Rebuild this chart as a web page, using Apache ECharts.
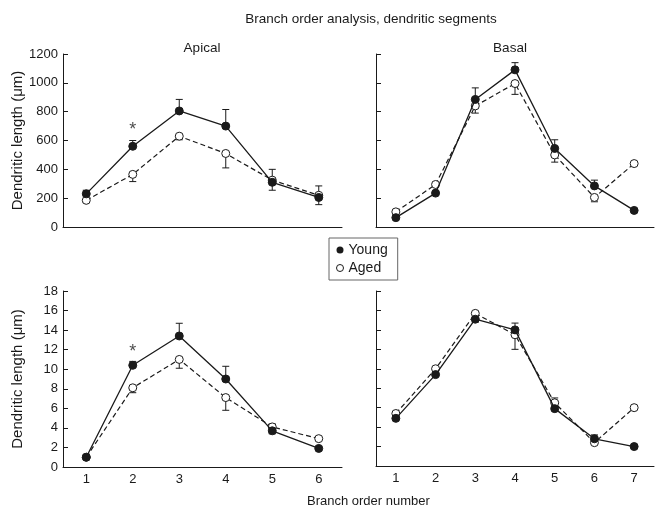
<!DOCTYPE html>
<html>
<head>
<meta charset="utf-8">
<script src="https://cdn.jsdelivr.net/npm/echarts@6/dist/echarts.min.js"></script>
<style>
  html, body { margin: 0; padding: 0; background: #fff; }
  #chart { width: 655px; height: 508px; }
</style>
</head>
<body>
<div id="chart"></div>
<script>
// branch order categories
const apicalOrders = ['1', '2', '3', '4', '5', '6']
const basalOrders = ['1', '2', '3', '4', '5', '6', '7']

// total length per branch order (um)
const apicalYoung = [230, 560, 805, 700, 310, 205]
const apicalAged = [185, 365, 630, 510, 325, 220]
const basalYoung = [65, 235, 885, 1090, 545, 285, 115]
const basalAged = [105, 295, 840, 995, 500, 205, 440]

// mean segment length per branch order (um)
const apicalSegYoung = [1.0, 10.4, 13.4, 9.0, 3.7, 1.9]
const apicalSegAged = [1.0, 8.1, 11.0, 7.1, 4.1, 2.9]
const basalSegYoung = [4.9, 9.4, 15.1, 14.0, 5.9, 2.8, 2.0]
const basalSegAged = [5.4, 10.0, 15.7, 13.5, 6.5, 2.4, 6.0]

// one-sided error bars (sign gives direction, 0 = none)
const apicalYoungErr = [25, 40, 80, 115, -55, -50]
const apicalAgedErr = [-15, -50, -25, -100, 75, 65]
const basalYoungErr = [0, 0, 80, 50, 60, 40, 0]
const basalAgedErr = [0, 0, -50, -75, -50, -30, 0]
const apicalSegYoungErr = [0, 0.4, 1.3, 1.3, -0.3, 0]
const apicalSegAgedErr = [0, -0.5, -0.9, -1.3, 0.3, 0]
const basalSegYoungErr = [0, 0, -0.3, 0.7, 0, 0.4, 0]
const basalSegAgedErr = [0, 0, 0, -1.5, 0.5, 0, 0]

// significance marks: [category index, height]
const apicalStar = [[1, 675]]
const apicalSegStar = [[1, 11.8]]

const font = 'Liberation Sans, Arial, sans-serif'
const ink = '#1a1a1a'

const chart = echarts.init(document.getElementById('chart'))

function errorBars(idx, values, errs) {
  return {
    type: 'custom',
    xAxisIndex: idx,
    yAxisIndex: idx,
    z: 1,
    silent: true,
    encode: { x: 0, y: 1 },
    data: values.map((v, i) => [i, v, errs[i]]),
    renderItem(params, api) {
      const e = api.value(2)
      if (!e) return
      const p0 = api.coord([api.value(0), api.value(1)])
      const p1 = api.coord([api.value(0), api.value(1) + e])
      const style = { stroke: ink, lineWidth: 1 }
      return {
        type: 'group',
        children: [
          { type: 'line', shape: { x1: p0[0], y1: p0[1], x2: p1[0], y2: p1[1] }, style },
          { type: 'line', shape: { x1: p1[0] - 3.5, y1: p1[1], x2: p1[0] + 3.5, y2: p1[1] }, style }
        ]
      }
    }
  }
}

function young(idx, values) {
  return {
    name: 'Young',
    type: 'line',
    xAxisIndex: idx,
    yAxisIndex: idx,
    z: 3,
    data: values,
    symbol: 'circle',
    symbolSize: 8,
    lineStyle: { color: ink, width: 1.3 },
    itemStyle: { color: ink, borderColor: ink, borderWidth: 1 }
  }
}

function aged(idx, values) {
  return {
    name: 'Aged',
    type: 'line',
    xAxisIndex: idx,
    yAxisIndex: idx,
    z: 2,
    data: values,
    symbol: 'circle',
    symbolSize: 8,
    lineStyle: { color: ink, width: 1.2, type: [5, 3] },
    itemStyle: { color: '#fff', borderColor: ink, borderWidth: 1 }
  }
}

function star(idx, pts) {
  return {
    type: 'scatter',
    xAxisIndex: idx,
    yAxisIndex: idx,
    silent: true,
    symbolSize: 0,
    data: pts,
    label: { show: true, position: 'inside', formatter: '*', fontSize: 18, fontFamily: font, color: ink }
  }
}

function xAxis(idx, cats, showLabels) {
  return {
    type: 'category',
    gridIndex: idx,
    data: cats,
    boundaryGap: true,
    axisLine: { lineStyle: { color: ink, width: 1 } },
    axisTick: { inside: true, length: 5, lineStyle: { color: ink } },
    axisLabel: { show: showLabels, margin: 6, fontSize: 13, fontFamily: font, color: ink }
  }
}

function yAxis(idx, max, interval, showLabels) {
  return {
    type: 'value',
    gridIndex: idx,
    min: 0,
    max: max,
    interval: interval,
    name: showLabels ? 'Dendritic length (μm)' : '',
    nameLocation: 'middle',
    nameGap: 38,
    nameTextStyle: { fontSize: 15, fontFamily: font, color: ink },
    splitLine: { show: false },
    axisLine: { show: true, lineStyle: { color: ink, width: 1 } },
    axisTick: { show: true, inside: true, length: 5, lineStyle: { color: ink } },
    axisLabel: {
      show: showLabels, margin: 5, fontSize: 13, fontFamily: font, color: ink,
      formatter: (v) => String(v)
    }
  }
}

const titleText = { fontSize: 13.5, fontWeight: 'normal', fontFamily: font, color: ink }

chart.setOption({
  animation: false,
  title: [
    { text: 'Branch order analysis, dendritic segments', left: 366, top: 7, textAlign: 'center', textStyle: titleText },
    { text: 'Apical', left: 197, top: 36, textAlign: 'center', textStyle: titleText },
    { text: 'Basal', left: 505, top: 36, textAlign: 'center', textStyle: titleText }
  ],
  legend: {
    orient: 'vertical',
    left: 329,
    top: 238,
    padding: [5, 10, 5, 7],
    itemGap: 4,
    itemWidth: 7,
    itemHeight: 7,
    borderColor: '#666',
    borderWidth: 1,
    textStyle: { fontSize: 14, fontFamily: font, color: ink },
    data: [
      { name: 'Young', icon: 'circle', itemStyle: { color: ink, borderWidth: 0 } },
      { name: 'Aged', icon: 'circle', itemStyle: { color: '#fff', borderColor: ink, borderWidth: 1 } }
    ]
  },
  graphic: [{
    type: 'text',
    left: 307,
    top: 495,
    style: { text: 'Branch order number', fontSize: 13, fontFamily: font, fill: ink }
  }],
  grid: [
    { left: 63, top: 54, width: 279, height: 173 },
    { left: 376, top: 54, width: 278, height: 173 },
    { left: 63, top: 291, width: 279, height: 176 },
    { left: 376, top: 291, width: 278, height: 175 }
  ],
  xAxis: [
    xAxis(0, apicalOrders, false),
    xAxis(1, basalOrders, false),
    xAxis(2, apicalOrders, true),
    xAxis(3, basalOrders, true)
  ],
  yAxis: [
    yAxis(0, 1200, 200, true),
    yAxis(1, 1200, 200, false),
    yAxis(2, 18, 2, true),
    yAxis(3, 18, 2, false)
  ],
  series: [
    errorBars(0, apicalYoung, apicalYoungErr),
    errorBars(0, apicalAged, apicalAgedErr),
    aged(0, apicalAged),
    young(0, apicalYoung),
    star(0, apicalStar),

    errorBars(1, basalYoung, basalYoungErr),
    errorBars(1, basalAged, basalAgedErr),
    aged(1, basalAged),
    young(1, basalYoung),

    errorBars(2, apicalSegYoung, apicalSegYoungErr),
    errorBars(2, apicalSegAged, apicalSegAgedErr),
    aged(2, apicalSegAged),
    young(2, apicalSegYoung),
    star(2, apicalSegStar),

    errorBars(3, basalSegYoung, basalSegYoungErr),
    errorBars(3, basalSegAged, basalSegAgedErr),
    aged(3, basalSegAged),
    young(3, basalSegYoung)
  ]
})
</script>
</body>
</html>
